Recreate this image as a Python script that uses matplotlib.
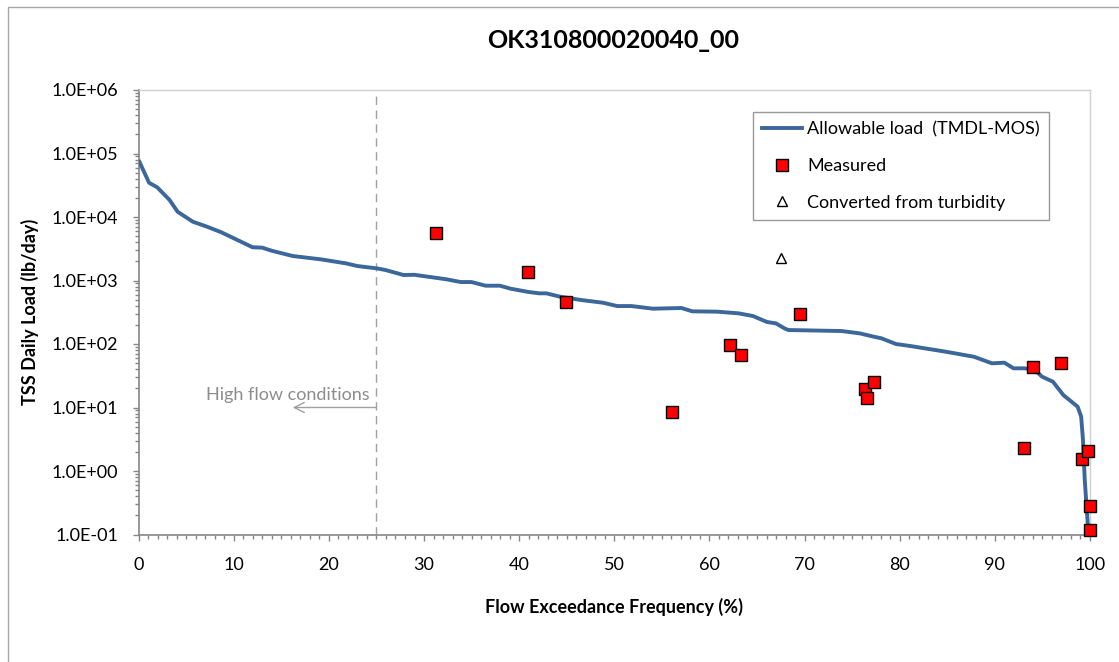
import matplotlib
matplotlib.use("Agg")
import matplotlib.pyplot as plt
from matplotlib.ticker import FuncFormatter, LogLocator, MultipleLocator, NullFormatter
from matplotlib.patches import Rectangle
from matplotlib.lines import Line2D
import numpy as np

# Load duration curve: allowable load (TMDL-MOS)
flow_pct = [0, 1.1, 1.95, 3.26, 4.1, 5.7, 7.2, 8.7, 10.96, 11.97, 13.0, 13.96, 16.2,
            19.2, 21.8, 23.0, 25.07, 25.97, 27.85, 28.97, 32.35, 33.85, 34.98, 36.48,
            37.98, 39.1, 41.0, 42.1, 42.86, 44.3, 46.5, 48.8, 50.3, 51.8, 54.05, 57.05,
            58.2, 60.8, 63.06, 64.56, 66.06, 67.0, 67.9, 68.3, 73.9, 75.8, 77.3, 78.07,
            79.6, 81.1, 84.8, 87.8, 89.7, 91.0, 91.96, 93.1, 94.2, 94.96, 96.1, 97.2,
            98.7, 99.07, 99.26, 99.45, 99.76, 99.9]
allowable_load = [79000, 34600, 29400, 18500, 12100, 8430, 7030, 5740, 3950, 3340, 3290,
                  2950, 2430, 2150, 1860, 1690, 1550, 1460, 1220, 1230, 1045, 946, 946,
                  828, 828, 743, 659, 628, 628, 556, 493, 447, 396, 396, 360, 369, 327,
                  323, 304, 276, 222, 211, 176, 166, 160, 147, 130, 123, 100, 93, 75.8,
                  63, 49.6, 50.8, 41.4, 41.4, 39, 30.6, 25.5, 15.7, 10.3, 7.2, 3.1, 0.72,
                  0.15, 0.09]

# Measured TSS loads
measured_pct = [31.3, 40.9, 44.96, 56.1, 62.2, 63.35, 69.55, 76.4, 76.6, 77.3,
                93.1, 94.06, 96.9, 99.2, 99.76, 100.0, 100.0]
measured_load = [5540, 1377, 464, 8.4, 97.8, 67, 297, 19.4, 13.9, 25,
                 2.3, 43, 50, 1.56, 2.07, 0.28, 0.118]

# Loads converted from turbidity
turbidity_pct = [67.55]
turbidity_load = [2230]

title = "OK310800020040_00"
xlabel = "Flow Exceedance Frequency (%)"
ylabel = "TSS Daily Load (lb/day)"
high_flow_limit = 25

plt.rcParams["font.family"] = ["Lato", "DejaVu Sans"]

W, H = 1119, 662
fig = plt.figure(figsize=(W / 100, H / 100), dpi=100)

# chart-area frame
fig.patches.append(Rectangle((8 / W, -0.05), 1.2, 1 - 7 / H + 0.05, transform=fig.transFigure,
                             fill=False, edgecolor="#a6a6a6", linewidth=1.0))

ax_l, ax_r = 138.6 / W, 1090 / W
ax_t, ax_b = 1 - 90 / H, 1 - 534.5 / H
ax = fig.add_axes([ax_l, ax_b, ax_r - ax_l, ax_t - ax_b])

line_color = "#3c679a"
ax.plot(flow_pct, allowable_load, color=line_color, linewidth=2.8, solid_capstyle="butt",
        zorder=3)
ax.plot(measured_pct, measured_load, linestyle="none", marker="s", markersize=8,
        markerfacecolor="#ff0000", markeredgecolor="black", markeredgewidth=1.0, zorder=4,
        clip_on=False)
ax.plot(turbidity_pct, turbidity_load, linestyle="none", marker="^", markersize=7.5,
        markerfacecolor="white", markeredgecolor="black", markeredgewidth=1.0, zorder=4)

ax.set_yscale("log")
ax.set_xlim(0, 100)
ax.set_ylim(0.1, 1e6)

ax.axvline(high_flow_limit, color="#a0a0a0", linestyle=(0, (6, 4)), linewidth=1.0, zorder=2)
ax.annotate("", xy=(16.2, 10), xytext=(high_flow_limit, 10),
            arrowprops=dict(arrowstyle="->", color="#a0a0a0", lw=1.0,
                            mutation_scale=18, shrinkA=0, shrinkB=0))
ax.text(24.3, 15.5, "High flow conditions", ha="right", va="center", fontsize=13,
        color="#8c8c8c")

ax.yaxis.set_major_locator(LogLocator(base=10, numticks=20))
ax.yaxis.set_minor_locator(LogLocator(base=10, subs=np.arange(2, 10), numticks=20))
ax.yaxis.set_minor_formatter(NullFormatter())


def sci_fmt(v, pos):
    exp = int(np.round(np.log10(v)))
    sign = "+" if exp >= 0 else "-"
    return f"1.0E{sign}{abs(exp):02d}"


ax.yaxis.set_major_formatter(FuncFormatter(sci_fmt))
ax.xaxis.set_major_locator(MultipleLocator(10))
ax.xaxis.set_minor_locator(MultipleLocator(1))

spine_dark = "#868686"
for side in ("left", "bottom"):
    ax.spines[side].set_color(spine_dark)
    ax.spines[side].set_linewidth(1.2)
for side in ("top", "right"):
    ax.spines[side].set_color("#d0d0d0")
    ax.spines[side].set_linewidth(1.0)

ax.tick_params(axis="both", which="major", direction="out", length=4.5, width=1,
               color=spine_dark, labelsize=13, labelcolor="black")
ax.tick_params(axis="both", which="minor", direction="out", length=3, width=1,
               color=spine_dark)
ax.tick_params(axis="y", which="major", pad=10)
ax.tick_params(axis="x", which="major", pad=12)

fig.text((ax_l + ax_r) / 2 - 0.001, 1 - 40 / H, title, ha="center", va="center",
         fontsize=18, fontweight="bold")
fig.text(0.5487, 1 - 607 / H, xlabel, ha="center", va="center", fontsize=13,
         fontweight="bold")
fig.text(30 / W, (ax_t + ax_b) / 2, ylabel, ha="center", va="center", rotation=90,
         fontsize=13, fontweight="bold")

handles = [
    Line2D([], [], color=line_color, linewidth=2.8),
    Line2D([], [], linestyle="none", marker="s", markersize=8, markerfacecolor="#ff0000",
           markeredgecolor="black"),
    Line2D([], [], linestyle="none", marker="^", markersize=7.5, markerfacecolor="white",
           markeredgecolor="black"),
]
labels = ["Allowable load  (TMDL-MOS)", "Measured", "Converted from turbidity"]
leg = ax.legend(handles, labels, loc="upper right", bbox_to_anchor=(0.957, 0.9505),
                fontsize=13, frameon=True, fancybox=False, edgecolor="#808080",
                handlelength=2.2, handletextpad=0.3, labelspacing=1.15, borderpad=0.5,
                borderaxespad=0)
leg.get_frame().set_linewidth(1.0)

fig.savefig("out.png", dpi=100)
